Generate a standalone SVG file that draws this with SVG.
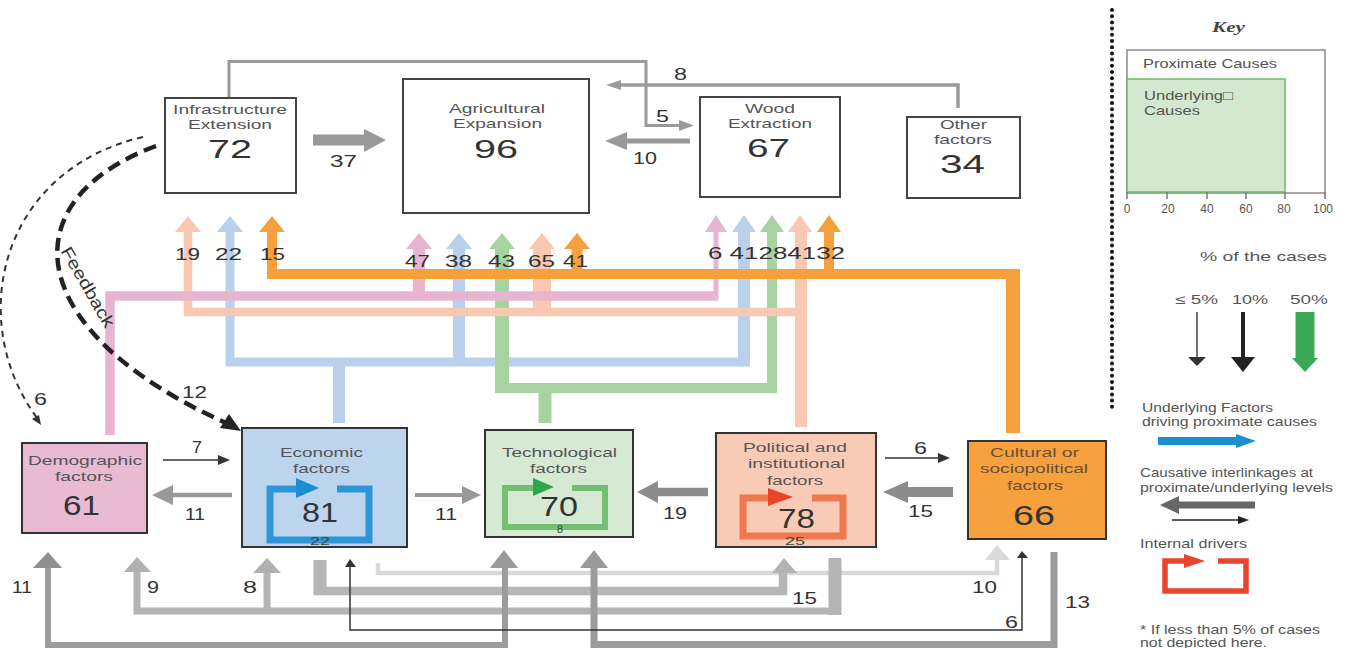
<svg xmlns="http://www.w3.org/2000/svg" width="1348" height="648" viewBox="0 0 1348 648">
<style>
text{font-family:"Liberation Sans",Arial,sans-serif}
.lb{font-size:13px;fill:#555}
.nm{font-size:25px;fill:#333}
.nb{font-size:27px;fill:#333}
.sm{font-size:10px;fill:#444}
.cn{font-size:17px;fill:#333}
.ky{font-size:13px;fill:#555}
.box{stroke:#333;stroke-width:2}
.tb{fill:#fff;stroke:#444;stroke-width:2}
.ln{fill:none;stroke-linejoin:miter;stroke-linecap:butt}
</style>
<rect width="1348" height="648" fill="#fff"/>

<g id="connectors">
<!-- top gray connectors -->
<path class="ln" d="M229,97 V61.5 H646 V125.5 H681" stroke="#9a9a9a" stroke-width="3"/>
<polygon points="679,120 694,125.5 679,131" fill="#9a9a9a"/>
<path class="ln" d="M958,108 V85 H619" stroke="#9a9a9a" stroke-width="3.5"/>
<polygon points="621,80 606,85 621,90" fill="#9a9a9a"/>
<path class="ln" d="M313,140 H366" stroke="#999" stroke-width="11"/>
<polygon points="364,129 386,140 364,152" fill="#999"/>
<path class="ln" d="M690,141 H624" stroke="#999" stroke-width="5"/>
<polygon points="627,132 605,141 627,150" fill="#999"/>

<!-- blue -->
<g fill="#b9d1ec">
<path class="ln" d="M339,423 V362" stroke="#b9d1ec" stroke-width="12"/>
<path class="ln" d="M230,232 V362 H744" stroke="#b9d1ec" stroke-width="9"/>
<path class="ln" d="M744,232 V366.5" stroke="#b9d1ec" stroke-width="12"/>
<path class="ln" d="M459,362 V248" stroke="#b9d1ec" stroke-width="12"/>
<polygon points="217,232 230,216 243,232"/>
<polygon points="446,249 459,233 472,249"/>
<polygon points="732,232 744,215 756,232"/>
</g>
<!-- green -->
<g fill="#a7d3a0">
<path class="ln" d="M545,423 V388" stroke="#a7d3a0" stroke-width="13"/>
<path class="ln" d="M502,248 V393" stroke="#a7d3a0" stroke-width="14"/>
<path class="ln" d="M502,388 H772 V232" stroke="#a7d3a0" stroke-width="10"/>
<polygon points="489,249 502,233 515,249"/>
<polygon points="760,232 772,215 784,232"/>
</g>
<!-- peach -->
<g fill="#f8c8b2">
<path class="ln" d="M801,427 V232" stroke="#f8c8b2" stroke-width="12"/>
<path class="ln" d="M801,312 H188 V232" stroke="#f8c8b2" stroke-width="8.5"/>
<path class="ln" d="M542,312 V248" stroke="#f8c8b2" stroke-width="18"/>
<polygon points="175,232 188,216 201,232"/>
<polygon points="529,249 542,233 555,249"/>
<polygon points="788,232 800,215 812,232"/>
</g>
<!-- pink -->
<g fill="#e8b5d0">
<path class="ln" d="M110,435 V296 H718" stroke="#e8b5d0" stroke-width="9.5"/>
<path class="ln" d="M716,300 V231" stroke="#e8b5d0" stroke-width="5"/>
<path class="ln" d="M419,296 V248" stroke="#e8b5d0" stroke-width="12"/>
<polygon points="406,249 419,233 432,249"/>
<polygon points="705,232 716,215 727,232"/>
</g>
<!-- orange -->
<g fill="#f5a03c">
<path class="ln" d="M1013,433 V269" stroke="#f5a03c" stroke-width="14"/>
<path class="ln" d="M1020,274 H272 V231" stroke="#f5a03c" stroke-width="10"/>
<path class="ln" d="M577,274 V248" stroke="#f5a03c" stroke-width="11"/>
<path class="ln" d="M829,274 V231" stroke="#f5a03c" stroke-width="10"/>
<polygon points="259,232 272,216 285,232"/>
<polygon points="564,249 577,233 590,249"/>
<polygon points="817,232 829,215 841,232"/>
</g>

<!-- feedback dashed -->
<path class="ln" d="M156,146 C10,200 20,330 226,423" stroke="#222" stroke-width="4.5" stroke-dasharray="13 7"/>
<polygon points="241,431 220,428 229,414" fill="#222"/>
<path class="ln" d="M143,137 C0,170 -35,320 37,418" stroke="#333" stroke-width="2" stroke-dasharray="6 5"/>
<polygon points="41,425 32,419 39,415" fill="#333"/>

<!-- inter-box arrows bottom row -->
<path class="ln" d="M163,460 H220" stroke="#333" stroke-width="1.5"/>
<polygon points="218,455 230,460 218,465" fill="#333"/>
<path class="ln" d="M232,495 H170" stroke="#999" stroke-width="4.5"/>
<polygon points="173,485 152,495 173,505" fill="#999"/>
<path class="ln" d="M415,495 H465" stroke="#999" stroke-width="4"/>
<polygon points="462,486 481,495 462,504" fill="#999"/>
<path class="ln" d="M708,492 H655" stroke="#8c8c8c" stroke-width="8.5"/>
<polygon points="658,481 637,492 658,503" fill="#8c8c8c"/>
<path class="ln" d="M885,458 H940" stroke="#333" stroke-width="1.5"/>
<polygon points="938,453 950,458 938,463" fill="#333"/>
<path class="ln" d="M953,492 H905" stroke="#8c8c8c" stroke-width="10"/>
<polygon points="908,481 883,492 908,503" fill="#8c8c8c"/>

<!-- bottom routing -->
<path class="ln" d="M378,563 V573 H997 V559" stroke="#d9d9d9" stroke-width="4.5"/>
<polygon points="985,560 997,545 1010,560" fill="#dadada"/>
<path class="ln" d="M835,558 V615" stroke="#b4b4b4" stroke-width="13"/>
<path class="ln" d="M841,611 H137 V571" stroke="#b4b4b4" stroke-width="7"/>
<path class="ln" d="M267,611 V571" stroke="#b4b4b4" stroke-width="7"/>
<polygon points="124,572 137,557 151,572" fill="#b0b0b0"/>
<polygon points="253,573 267,558 281,573" fill="#b0b0b0"/>
<path class="ln" d="M320,560 V595" stroke="#b6b6b6" stroke-width="13"/>
<path class="ln" d="M314,591 H783 V571" stroke="#b6b6b6" stroke-width="8.5"/>
<polygon points="772,573 784,558 797,573" fill="#b3b3b3"/>
<path class="ln" d="M48,567 V645 H505 V567" stroke="#9c9c9c" stroke-width="6"/>
<polygon points="33,568 48,552 62,568" fill="#8f8f8f"/>
<polygon points="490,568 504,550 518,568" fill="#999"/>
<path class="ln" d="M1054,552 V644.5 H594 V567" stroke="#9c9c9c" stroke-width="7"/>
<polygon points="580,568 594,550 608,568" fill="#999"/>
<path class="ln" d="M350,566 V630 H1022 V557" stroke="#333" stroke-width="1.5"/>
<polygon points="345,567 350,559 356,567" fill="#333"/>
<polygon points="1017,558 1022,551 1028,558" fill="#333"/>
</g>

<g id="infrastructure">
<rect class="tb" x="165" y="98" width="131" height="95"/>
<text class="lb" x="173" y="114" textLength="114" lengthAdjust="spacingAndGlyphs">Infrastructure</text>
<text class="lb" x="188" y="129" textLength="84" lengthAdjust="spacingAndGlyphs">Extension</text>
<text class="nm" x="208" y="158" textLength="44" lengthAdjust="spacingAndGlyphs">72</text>
</g>
<g id="agricultural">
<rect class="tb" x="403" y="79" width="186" height="134"/>
<text class="lb" x="449" y="113" textLength="96" lengthAdjust="spacingAndGlyphs">Agricultural</text>
<text class="lb" x="453" y="128" textLength="89" lengthAdjust="spacingAndGlyphs">Expansion</text>
<text class="nm" x="474" y="158" textLength="44" lengthAdjust="spacingAndGlyphs">96</text>
</g>
<g id="wood">
<rect class="tb" x="700" y="97" width="140" height="100"/>
<text class="lb" x="745" y="113" textLength="50" lengthAdjust="spacingAndGlyphs">Wood</text>
<text class="lb" x="728" y="128" textLength="84" lengthAdjust="spacingAndGlyphs">Extraction</text>
<text class="nm" x="747" y="157" textLength="43" lengthAdjust="spacingAndGlyphs">67</text>
</g>
<g id="other">
<rect class="tb" x="907" y="117" width="113" height="81"/>
<text class="lb" x="940" y="129" textLength="47" lengthAdjust="spacingAndGlyphs">Other</text>
<text class="lb" x="934" y="144" textLength="58" lengthAdjust="spacingAndGlyphs">factors</text>
<text class="nm" x="940" y="173" textLength="45" lengthAdjust="spacingAndGlyphs">34</text>
</g>

<g id="demographic">
<rect class="box" x="22" y="443" width="125" height="90" fill="#e9bbd3"/>
<text class="lb" x="28" y="465" textLength="114" lengthAdjust="spacingAndGlyphs">Demographic</text>
<text class="lb" x="55" y="481" textLength="58" lengthAdjust="spacingAndGlyphs">factors</text>
<text class="nb" x="63" y="515" textLength="37" lengthAdjust="spacingAndGlyphs">61</text>
</g>
<g id="economic">
<rect class="box" x="242" y="428" width="165" height="119" fill="#bcd4ee"/>
<text class="lb" x="280" y="457" textLength="83" lengthAdjust="spacingAndGlyphs">Economic</text>
<text class="lb" x="293" y="473" textLength="57" lengthAdjust="spacingAndGlyphs">factors</text>
<path class="ln" d="M337,489 H369 V540 H270 V489 H298" stroke="#2e96d6" stroke-width="7"/>
<polygon points="296,478 319,488 296,498" fill="#1a8ed0"/>
<text class="nb" x="302" y="522" textLength="36" lengthAdjust="spacingAndGlyphs">81</text>
<text class="sm" x="310" y="545" textLength="20" lengthAdjust="spacingAndGlyphs">22</text>
</g>
<g id="technological">
<rect class="box" x="485" y="430" width="148" height="107" fill="#d6e9d2"/>
<text class="lb" x="502" y="457" textLength="115" lengthAdjust="spacingAndGlyphs">Technological</text>
<text class="lb" x="530" y="473" textLength="57" lengthAdjust="spacingAndGlyphs">factors</text>
<path class="ln" d="M572,488 H605 V527 H505 V488 H535" stroke="#72c070" stroke-width="6"/>
<polygon points="533,478 554,487 533,496" fill="#2aa84a"/>
<text class="nb" x="540" y="516" textLength="38" lengthAdjust="spacingAndGlyphs">70</text>
<text class="sm" x="557" y="533" textLength="6" lengthAdjust="spacingAndGlyphs">8</text>
</g>
<g id="political">
<rect class="box" x="716" y="433" width="160" height="114" fill="#f9cbb6"/>
<text class="lb" x="743" y="452" textLength="104" lengthAdjust="spacingAndGlyphs">Political and</text>
<text class="lb" x="748" y="468" textLength="97" lengthAdjust="spacingAndGlyphs">institutional</text>
<text class="lb" x="767" y="485" textLength="56" lengthAdjust="spacingAndGlyphs">factors</text>
<path class="ln" d="M812,498 H843 V536 H743 V498 H770" stroke="#f0784f" stroke-width="7"/>
<polygon points="768,488 793,497 768,506" fill="#e8442a"/>
<text class="nb" x="778" y="528" textLength="37" lengthAdjust="spacingAndGlyphs">78</text>
<text class="sm" x="785" y="545" textLength="20" lengthAdjust="spacingAndGlyphs">25</text>
</g>
<g id="cultural">
<rect class="box" x="968" y="441" width="138" height="98" fill="#f6a03e"/>
<text class="lb" x="990" y="457" textLength="89" lengthAdjust="spacingAndGlyphs" style="fill:#6a5038">Cultural or</text>
<text class="lb" x="980" y="473" textLength="108" lengthAdjust="spacingAndGlyphs" style="fill:#6a5038">sociopolitical</text>
<text class="lb" x="1007" y="490" textLength="56" lengthAdjust="spacingAndGlyphs" style="fill:#6a5038">factors</text>
<text class="nb" x="1013" y="525" textLength="42" lengthAdjust="spacingAndGlyphs">66</text>
</g>

<g id="labels">
<text class="cn" x="656" y="122" textLength="13" lengthAdjust="spacingAndGlyphs">5</text>
<text class="cn" x="674" y="80" textLength="13" lengthAdjust="spacingAndGlyphs">8</text>
<text class="cn" x="330" y="167" textLength="27" lengthAdjust="spacingAndGlyphs">37</text>
<text class="cn" x="633" y="164" textLength="24" lengthAdjust="spacingAndGlyphs">10</text>
<text class="cn" x="175" y="260" textLength="25" lengthAdjust="spacingAndGlyphs">19</text>
<text class="cn" x="215" y="260" textLength="27" lengthAdjust="spacingAndGlyphs">22</text>
<text class="cn" x="260" y="260" textLength="25" lengthAdjust="spacingAndGlyphs">15</text>
<text class="cn" x="405" y="267" textLength="25" lengthAdjust="spacingAndGlyphs">47</text>
<text class="cn" x="445" y="267" textLength="27" lengthAdjust="spacingAndGlyphs">38</text>
<text class="cn" x="488" y="267" textLength="27" lengthAdjust="spacingAndGlyphs">43</text>
<text class="cn" x="528" y="267" textLength="27" lengthAdjust="spacingAndGlyphs">65</text>
<text class="cn" x="563" y="267" textLength="25" lengthAdjust="spacingAndGlyphs">41</text>
<text class="cn" x="708" y="259" textLength="137" lengthAdjust="spacingAndGlyphs">6 41284132</text>
<text class="cn" transform="translate(88,287) rotate(60)" x="-45" y="6" textLength="90" lengthAdjust="spacingAndGlyphs">Feedback</text>
<text class="cn" x="182" y="398" textLength="25" lengthAdjust="spacingAndGlyphs">12</text>
<text class="cn" x="34" y="405" textLength="13" lengthAdjust="spacingAndGlyphs">6</text>
<text class="cn" x="192" y="453" textLength="10" lengthAdjust="spacingAndGlyphs">7</text>
<text class="cn" x="185" y="520" textLength="20" lengthAdjust="spacingAndGlyphs">11</text>
<text class="cn" x="435" y="520" textLength="22" lengthAdjust="spacingAndGlyphs">11</text>
<text class="cn" x="663" y="519" textLength="24" lengthAdjust="spacingAndGlyphs">19</text>
<text class="cn" x="914" y="454" textLength="13" lengthAdjust="spacingAndGlyphs">6</text>
<text class="cn" x="908" y="517" textLength="25" lengthAdjust="spacingAndGlyphs">15</text>
<text class="cn" x="12" y="593" textLength="20" lengthAdjust="spacingAndGlyphs">11</text>
<text class="cn" x="147" y="593" textLength="12" lengthAdjust="spacingAndGlyphs">9</text>
<text class="cn" x="243" y="593" textLength="14" lengthAdjust="spacingAndGlyphs">8</text>
<text class="cn" x="792" y="604" textLength="25" lengthAdjust="spacingAndGlyphs">15</text>
<text class="cn" x="972" y="593" textLength="25" lengthAdjust="spacingAndGlyphs">10</text>
<text class="cn" x="1005" y="628" textLength="13" lengthAdjust="spacingAndGlyphs">6</text>
<text class="cn" x="1065" y="608" textLength="25" lengthAdjust="spacingAndGlyphs">13</text>
</g>

<g id="key">
<line x1="1112" y1="10" x2="1112" y2="412" stroke="#111" stroke-width="4" stroke-linecap="round" stroke-dasharray="0 6.2"/>
<text x="1212" y="32" textLength="33" lengthAdjust="spacingAndGlyphs" style="font-family:'Liberation Serif','Times New Roman',serif;font-style:italic;font-weight:bold;font-size:15px;fill:#444">Key</text>
<rect x="1127" y="50" width="198" height="143" fill="none" stroke="#8a8a8a" stroke-width="1.5"/>
<text class="ky" x="1143" y="68" textLength="134" lengthAdjust="spacingAndGlyphs">Proximate Causes</text>
<rect x="1127" y="79" width="158" height="113" fill="#d4e8cf" stroke="#6cb86c" stroke-width="1.5"/>
<text class="ky" x="1144" y="100" textLength="89" lengthAdjust="spacingAndGlyphs">Underlying□</text>
<text class="ky" x="1144" y="115" textLength="56" lengthAdjust="spacingAndGlyphs">Causes</text>
<g stroke="#777" stroke-width="1.5">
<line x1="1127" y1="192" x2="1127" y2="199"/>
<line x1="1167" y1="192" x2="1167" y2="199"/>
<line x1="1207" y1="192" x2="1207" y2="199"/>
<line x1="1246" y1="192" x2="1246" y2="199"/>
<line x1="1285" y1="192" x2="1285" y2="199"/>
<line x1="1325" y1="192" x2="1325" y2="199"/>
</g>
<g class="ky" style="font-size:12px" text-anchor="middle">
<text x="1127" y="213">0</text>
<text x="1168" y="213">20</text>
<text x="1207" y="213">40</text>
<text x="1246" y="213">60</text>
<text x="1284" y="213">80</text>
<text x="1323" y="213">100</text>
</g>
<text class="ky" x="1200" y="261" textLength="127" lengthAdjust="spacingAndGlyphs">% of the cases</text>
<text class="ky" x="1175" y="304" textLength="43" lengthAdjust="spacingAndGlyphs">≤ 5%</text>
<text class="ky" x="1232" y="304" textLength="36" lengthAdjust="spacingAndGlyphs">10%</text>
<text class="ky" x="1290" y="304" textLength="38" lengthAdjust="spacingAndGlyphs">50%</text>
<line x1="1197" y1="312" x2="1197" y2="358" stroke="#444" stroke-width="1.5"/>
<polygon points="1188,357 1197,366 1206,357" fill="#333"/>
<line x1="1243" y1="312" x2="1243" y2="359" stroke="#222" stroke-width="4"/>
<polygon points="1231,357 1243,372 1255,357" fill="#222"/>
<line x1="1305" y1="312" x2="1305" y2="359" stroke="#3aaa58" stroke-width="19"/>
<polygon points="1292,358 1305,372 1318,358" fill="#3aaa58"/>
<text class="ky" x="1142" y="412" textLength="131" lengthAdjust="spacingAndGlyphs">Underlying Factors</text>
<text class="ky" x="1142" y="426" textLength="175" lengthAdjust="spacingAndGlyphs">driving proximate causes</text>
<line x1="1158" y1="441" x2="1238" y2="441" stroke="#1d8fd1" stroke-width="8"/>
<polygon points="1236,434 1256,441 1236,448" fill="#1d8fd1"/>
<text class="ky" x="1140" y="477" textLength="173" lengthAdjust="spacingAndGlyphs">Causative interlinkages at</text>
<text class="ky" x="1140" y="492" textLength="193" lengthAdjust="spacingAndGlyphs">proximate/underlying levels</text>
<line x1="1255" y1="505" x2="1176" y2="505" stroke="#666" stroke-width="7"/>
<polygon points="1179,496 1160,505 1179,514" fill="#666"/>
<line x1="1172" y1="520" x2="1240" y2="520" stroke="#222" stroke-width="1.5"/>
<polygon points="1238,516 1249,520 1238,524" fill="#222"/>
<text class="ky" x="1140" y="548" textLength="107" lengthAdjust="spacingAndGlyphs">Internal drivers</text>
<path class="ln" d="M1218,561 H1246 V591 H1165 V561 H1186" stroke="#e8452c" stroke-width="5.5"/>
<polygon points="1184,554 1205,561 1184,568" fill="#e8452c"/>
<text class="ky" x="1140" y="634" textLength="180" lengthAdjust="spacingAndGlyphs">* If less than 5% of cases</text>
<text class="ky" x="1140" y="647" textLength="127" lengthAdjust="spacingAndGlyphs">not depicted here.</text>
</g>
</svg>
